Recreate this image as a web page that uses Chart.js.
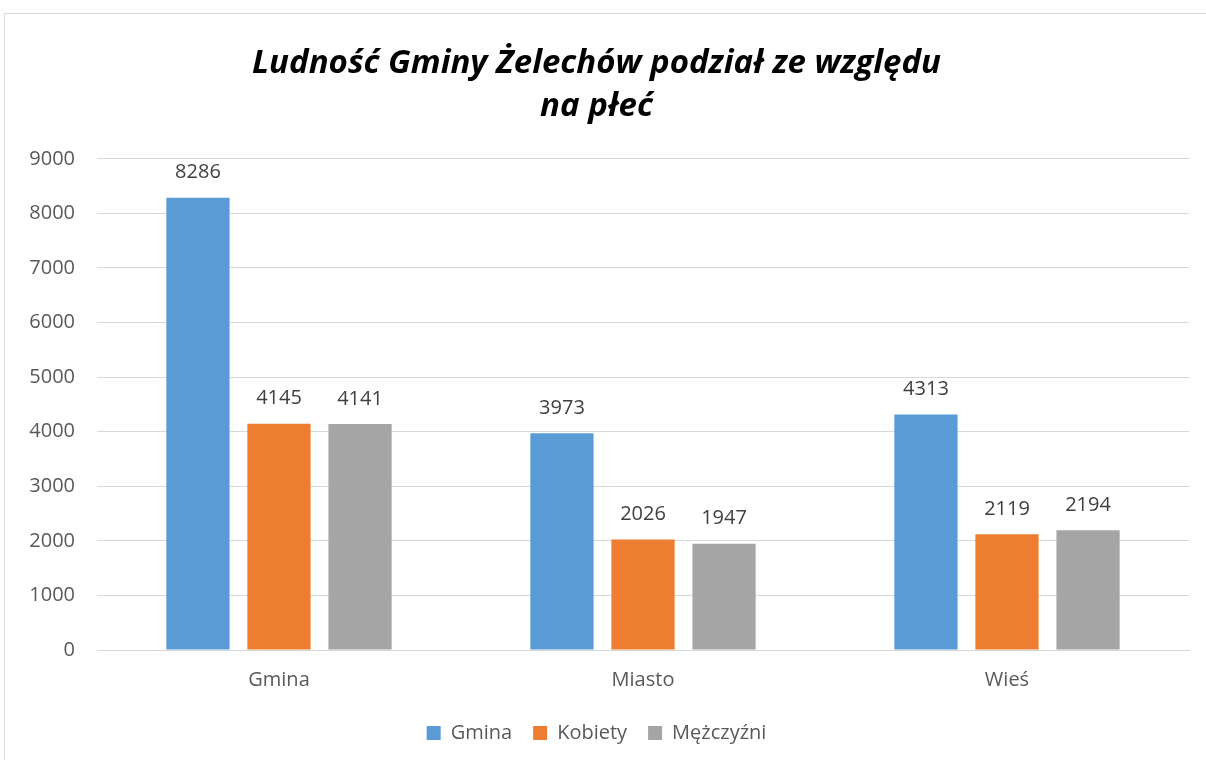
<!DOCTYPE html>
<html>
<head>
<meta charset="utf-8">
<script src="https://cdn.jsdelivr.net/npm/chart.js@4"></script>
<style>
  html, body { margin: 0; padding: 0; background: #fff; overflow: hidden; }
  .frame { position: absolute; left: 4px; top: 13px; width: 1230px; height: 760px; border: 1px solid #d9d9d9; box-sizing: border-box; }
  .wrap { position: absolute; left: 0; top: 0; width: 1206px; height: 760px; }
</style>
</head>
<body>
<div class="frame"></div>
<div class="wrap"><canvas id="chart" width="1206" height="760"></canvas></div>
<script>
// Data
const categories = ['Gmina', 'Miasto', 'Wieś'];
const gmina = [8286, 3973, 4313];
const kobiety = [4145, 2026, 2119];
const mezczyzni = [4141, 1947, 2194];
const yTicks = [0, 1000, 2000, 3000, 4000, 5000, 6000, 7000, 8000, 9000];

Chart.defaults.font.family = "'Open Sans', sans-serif";
Chart.defaults.color = '#595959';

// Value labels above each bar
const barLabels = {
  id: 'barLabels',
  afterDatasetsDraw(chart) {
    const ctx = chart.ctx;
    ctx.save();
    ctx.font = "20px 'Open Sans', sans-serif";
    ctx.fillStyle = '#404040';
    ctx.textAlign = 'center';
    ctx.textBaseline = 'middle';
    chart.data.datasets.forEach((ds, i) => {
      chart.getDatasetMeta(i).data.forEach((bar, j) => {
        ctx.fillText(ds.data[j], bar.x, bar.y - 25);
      });
    });
    ctx.restore();
  }
};

new Chart(document.getElementById('chart'), {
  type: 'bar',
  data: {
    labels: categories,
    datasets: [
      { label: 'Gmina', data: gmina, backgroundColor: '#5B9BD5' },
      { label: 'Kobiety', data: kobiety, backgroundColor: '#ED7D31' },
      { label: 'Mężczyźni', data: mezczyzni, backgroundColor: '#A5A5A5' }
    ]
  },
  options: {
    responsive: false,
    animation: false,
    categoryPercentage: 0.668,
    barPercentage: 0.78,
    layout: { padding: { left: 4, right: 17, top: 42, bottom: 7 } },
    plugins: {
      title: {
        display: true,
        text: ['Ludność Gminy Żelechów podział ze względu', 'na płeć'],
        color: '#000',
        font: { size: 33, weight: 'bold', style: 'italic', lineHeight: 1.3 },
        padding: { top: 0, bottom: 31 }
      },
      legend: {
        position: 'bottom',
        labels: { boxWidth: 14, boxHeight: 14, padding: 21, color: '#595959', font: { size: 20 } }
      },
      tooltip: { enabled: false }
    },
    scales: {
      x: {
        grid: { display: false },
        border: { color: '#d9d9d9' },
        ticks: { color: '#595959', font: { size: 20 }, padding: 10 }
      },
      y: {
        min: 0,
        max: 9000,
        afterFit(scale) { scale.width = 93; },
        afterBuildTicks(scale) { scale.ticks = yTicks.map(v => ({ value: v })); },
        grid: { color: '#d9d9d9', drawTicks: false },
        border: { display: false },
        ticks: { color: '#595959', font: { size: 20 }, padding: 22, callback: v => String(v) }
      }
    }
  },
  plugins: [barLabels]
});
</script>
</body>
</html>
